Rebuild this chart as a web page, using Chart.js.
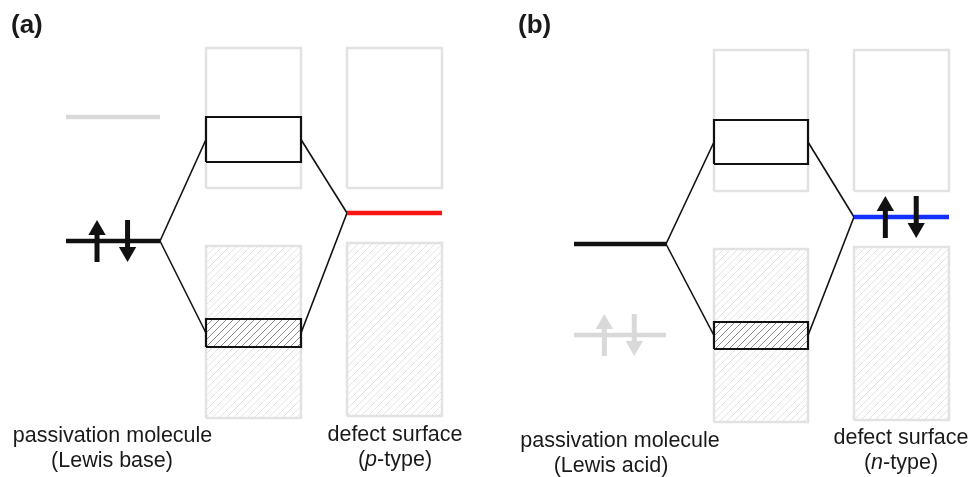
<!DOCTYPE html>
<html>
<head>
<meta charset="utf-8">
<script src="https://cdn.jsdelivr.net/npm/chart.js@4.4.1/dist/chart.umd.min.js"></script>
<style>
  html, body { margin: 0; padding: 0; background: #fff; }
  #wrap { width: 969px; height: 477px; position: relative; }
</style>
</head>
<body>
<div id="wrap"><canvas id="diagram"></canvas></div>
<script>
// Orbital-interaction schematic for surface passivation.
// Vertical axis: energy (arbitrary units, higher = up). Horizontal axis: diagram position.
// Index 0 = panel (a) Lewis base on p-type surface, index 1 = panel (b) Lewis acid on n-type surface.

const panelTags      = ['(a)', '(b)'];
const moleculeNames  = ['passivation molecule', 'passivation molecule'];
const moleculeKinds  = ['(Lewis base)', '(Lewis acid)'];
const surfaceNames   = ['defect surface', 'defect surface'];
const surfaceKinds   = [['(', 'p', '-type)'], ['(', 'n', '-type)']];   // middle part is italic

// Molecule orbitals
const molLUMO        = [360, 233];
const molHOMO        = [236, 142];
const activeOrbital  = ['HOMO', 'LUMO'];          // the one taking part in the interaction

// Host bands [bottom, top]
const bandCB         = [[289, 429], [286, 427]];
const bandVB         = [[59, 231], [55, 228]];
const surfaceCB      = [[289, 429], [286, 427]];
const surfaceVB      = [[61, 234], [57, 230]];

// Defect state and resulting hybrid states [bottom, top]
const defectLevel    = [264, 260];
const defectFilled   = [false, true];
const antibonding    = [[315, 360], [313, 357]];
const bonding        = [[130, 158], [128, 155]];

// ---- layout & styling ----
const columns = [
  { mol: [66, 160],  band: [206, 301], surf: [347, 442] },
  { mol: [574, 666], band: [714, 808], surf: [854, 949] }
];
const defectColors = ['#ff1414', '#1430ff'];
const INK = '#111111';
const FADED = '#d9d9d9';
const BOX_GREY = '#e2e2e2';
const SPIN_HALF = 21;      // half length of a spin arrow (energy units)
const HEAD_R = 10;         // arrow head radius (px)

const textLayout = [
  { mol: { x: 112.5, x2: 112, y: 35, y2: 10 }, surf: { x: 395, y: 36, y2: 11 }, tag: { x: 11, y: 444 } },
  { mol: { x: 620, x2: 611, y: 30, y2: 5 },    surf: { x: 901, y: 33, y2: 8 },  tag: { x: 518, y: 444 } }
];

function hatch(color) {
  const s = 7;
  const c = document.createElement('canvas');
  c.width = s; c.height = s;
  const g = c.getContext('2d');
  g.fillStyle = '#ffffff';
  g.fillRect(0, 0, s, s);
  g.strokeStyle = color;
  g.lineWidth = 1;
  g.beginPath();
  for (const k of [-1, 0, 1]) {
    g.moveTo(k * s, s);
    g.lineTo(k * s + s, 0);
  }
  g.stroke();
  return g.createPattern(c, 'repeat');
}
const lightHatch = hatch('#e3e3e3');
const darkHatch = hatch('#8c8c8c');

const seg = (x0, x1, y) => [{ x: x0, y }, { x: x1, y }];
const rect = (x0, x1, y0, y1) => [
  { x: x0, y: y0 }, { x: x1, y: y0 }, { x: x1, y: y1 }, { x: x0, y: y1 }, { x: x0, y: y0 }
];
const mid = r => (r[0] + r[1]) / 2;

function line(data, color, width, order, extra) {
  return Object.assign({
    data, borderColor: color, borderWidth: width, showLine: true,
    pointRadius: 0, fill: false, tension: 0, order,
    borderJoinStyle: 'miter', borderCapStyle: 'butt'
  }, extra || {});
}

function spinPair(xl, xr, level, color) {
  const up = [{ x: xl, y: level - SPIN_HALF }, { x: xl, y: level + SPIN_HALF - HEAD_R }];
  const down = [{ x: xr, y: level + SPIN_HALF }, { x: xr, y: level - SPIN_HALF + HEAD_R }];
  const head = rot => ({
    pointRadius: [0, HEAD_R], pointStyle: 'triangle', pointRotation: [0, rot],
    pointBackgroundColor: color, pointBorderWidth: 0
  });
  return [line(up, color, 5, 5, head(0)), line(down, color, 5, 5, head(180))];
}

const datasets = [];
for (let p = 0; p < 2; p++) {
  const col = columns[p];
  // host bands (faded outlines, occupied bands hatched)
  datasets.push(line(rect(col.band[0], col.band[1], bandCB[p][0], bandCB[p][1]), BOX_GREY, 2.5, 60));
  datasets.push(line(rect(col.surf[0], col.surf[1], surfaceCB[p][0], surfaceCB[p][1]), BOX_GREY, 2.5, 60));
  datasets.push(line(rect(col.band[0], col.band[1], bandVB[p][0], bandVB[p][1]), BOX_GREY, 2.5, 60,
    { fill: 'shape', backgroundColor: lightHatch }));
  datasets.push(line(rect(col.surf[0], col.surf[1], surfaceVB[p][0], surfaceVB[p][1]), BOX_GREY, 2.5, 60,
    { fill: 'shape', backgroundColor: lightHatch }));

  // interaction lines: active molecular orbital + defect state -> hybrid states
  const active = activeOrbital[p] === 'HOMO' ? molHOMO[p] : molLUMO[p];
  const ab = mid(antibonding[p]), bo = mid(bonding[p]);
  datasets.push(line([{ x: col.mol[1], y: active }, { x: col.band[0], y: ab }], INK, 1.6, 40));
  datasets.push(line([{ x: col.mol[1], y: active }, { x: col.band[0], y: bo }], INK, 1.6, 40));
  datasets.push(line([{ x: col.band[1], y: ab }, { x: col.surf[0], y: defectLevel[p] }], INK, 1.6, 40));
  datasets.push(line([{ x: col.band[1], y: bo }, { x: col.surf[0], y: defectLevel[p] }], INK, 1.6, 40));

  // hybrid states
  datasets.push(line(rect(col.band[0], col.band[1], antibonding[p][0], antibonding[p][1]), INK, 2.2, 30,
    { fill: 'shape', backgroundColor: '#ffffff' }));
  datasets.push(line(rect(col.band[0], col.band[1], bonding[p][0], bonding[p][1]), INK, 2.2, 30,
    { fill: 'shape', backgroundColor: darkHatch }));

  // molecular orbitals and defect level
  const lumoColor = activeOrbital[p] === 'LUMO' ? INK : FADED;
  const homoColor = activeOrbital[p] === 'HOMO' ? INK : FADED;
  datasets.push(line(seg(col.mol[0], col.mol[1], molLUMO[p]), lumoColor, 4.5, 20));
  datasets.push(line(seg(col.mol[0], col.mol[1], molHOMO[p]), homoColor, 4.5, 20));
  datasets.push(line(seg(col.surf[0], col.surf[1], defectLevel[p]), defectColors[p], 4.5, 20));

  // electron pairs
  const w = c => [c[0] + (c[1] - c[0]) * 0.33, c[0] + (c[1] - c[0]) * 0.655];
  const [ml, mr] = w(col.mol);
  datasets.push(...spinPair(ml, mr, molHOMO[p], homoColor));
  if (defectFilled[p]) {
    const [sl, sr] = w(col.surf);
    datasets.push(...spinPair(sl, sr, defectLevel[p], INK));
  }
}

const FONT = '"Liberation Sans", Arial, Helvetica, sans-serif';

const labelPlugin = {
  id: 'labels',
  afterDraw(chart) {
    const { ctx, scales: { x, y } } = chart;
    ctx.save();
    ctx.fillStyle = '#1a1a1a';
    ctx.textBaseline = 'alphabetic';
    for (let p = 0; p < 2; p++) {
      const L = textLayout[p];
      ctx.font = 'bold 26px ' + FONT;
      ctx.textAlign = 'left';
      ctx.fillText(panelTags[p], x.getPixelForValue(L.tag.x), y.getPixelForValue(L.tag.y));

      ctx.font = '21.5px ' + FONT;
      ctx.textAlign = 'center';
      ctx.fillText(moleculeNames[p], x.getPixelForValue(L.mol.x), y.getPixelForValue(L.mol.y));
      ctx.fillText(moleculeKinds[p], x.getPixelForValue(L.mol.x2), y.getPixelForValue(L.mol.y2));
      ctx.fillText(surfaceNames[p], x.getPixelForValue(L.surf.x), y.getPixelForValue(L.surf.y));

      // "(p-type)" with italic letter
      const parts = surfaceKinds[p];
      const fonts = ['21.5px ' + FONT, 'italic 21.5px ' + FONT, '21.5px ' + FONT];
      const widths = parts.map((t, i) => { ctx.font = fonts[i]; return ctx.measureText(t).width; });
      const total = widths.reduce((a, b) => a + b, 0);
      let cx = x.getPixelForValue(L.surf.x) - total / 2;
      const by = y.getPixelForValue(L.surf.y2);
      ctx.textAlign = 'left';
      parts.forEach((t, i) => { ctx.font = fonts[i]; ctx.fillText(t, cx, by); cx += widths[i]; });
    }
    ctx.restore();
  }
};

new Chart(document.getElementById('diagram'), {
  type: 'scatter',
  data: { datasets },
  options: {
    responsive: true,
    maintainAspectRatio: false,
    animation: false,
    devicePixelRatio: 1,
    layout: { padding: 0, autoPadding: false },
    events: [],
    plugins: { legend: { display: false }, tooltip: { enabled: false }, title: { display: false } },
    scales: {
      x: { type: 'linear', min: 0, max: 969, display: false },
      y: { type: 'linear', min: 0, max: 477, display: false }
    }
  },
  plugins: [labelPlugin]
});
</script>
</body>
</html>
